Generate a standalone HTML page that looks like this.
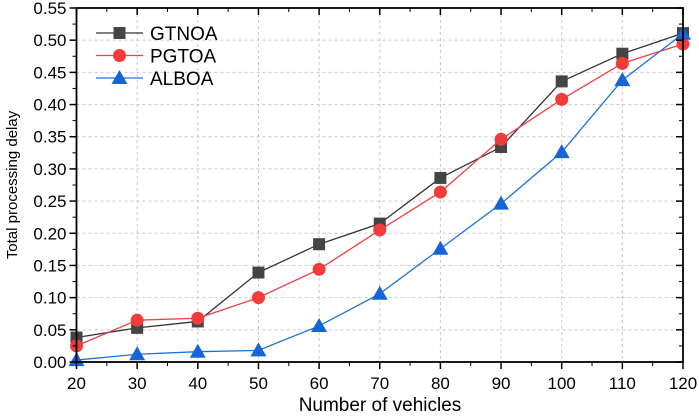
<!DOCTYPE html>
<html><head><meta charset="utf-8"><style>
body{margin:0;background:#fff}
svg{display:block;font-family:"Liberation Sans",sans-serif}
</style></head><body>
<svg id="chart" width="699" height="416" viewBox="0 0 699 416" xmlns="http://www.w3.org/2000/svg">
<g id="grid"></g>
<g id="series"></g>
<g id="axes"></g>
<text x="380" y="411" font-size="19" text-anchor="middle">Number of vehicles</text>
<text transform="translate(17,185) rotate(-90)" font-size="15" text-anchor="middle">Total processing delay</text>
<g id="legend"></g>
</svg>
<script>
const categories=[20,30,40,50,60,70,80,90,100,110,120];
const gtnoa=[0.038,0.053,0.063,0.139,0.183,0.215,0.286,0.334,0.436,0.479,0.511];
const pgtoa=[0.025,0.065,0.068,0.100,0.144,0.205,0.264,0.346,0.408,0.464,0.494];
const alboa=[0.003,0.012,0.016,0.018,0.056,0.106,0.176,0.246,0.326,0.438,0.510];
const yTicks=["0.00","0.05","0.10","0.15","0.20","0.25","0.30","0.35","0.40","0.45","0.50","0.55"];
const xTicks=["20","30","40","50","60","70","80","90","100","110","120"];
const NS="http://www.w3.org/2000/svg";
const X0=76.5,X1=683,Y0=362,Y1=8;
const xs=v=>X0+(v-20)/100*(X1-X0);
const ys=v=>Y0-v/0.55*(Y0-Y1);
function mk(t,a,p){const e=document.createElementNS(NS,t);for(const k in a)e.setAttribute(k,a[k]);p.appendChild(e);return e;}
const grid=document.getElementById('grid'),axes=document.getElementById('axes'),ser=document.getElementById('series'),leg=document.getElementById('legend');
xTicks.forEach((t,i)=>{const x=xs(+t);
 if(i>0&&i<xTicks.length-1){const l=mk('line',{x1:x,x2:x,y1:Y1,y2:Y0,stroke:'#c8c8c8','stroke-dasharray':'3,3'},grid);}
 mk('line',{x1:x,x2:x,y1:Y0,y2:Y0+7,stroke:'#000','stroke-width':1.5},axes);
 mk('line',{x1:x,x2:x,y1:Y1,y2:Y1+7,stroke:'#000','stroke-width':1.5},axes);
 if(i<xTicks.length-1){const xm=xs(+t+5);mk('line',{x1:xm,x2:xm,y1:Y0,y2:Y0+4,stroke:'#000'},axes);mk('line',{x1:xm,x2:xm,y1:Y1,y2:Y1+4,stroke:'#000'},axes);}
 const tx=mk('text',{x:x,y:Y0+27,'font-size':17,'text-anchor':'middle'},axes);tx.textContent=t;
 
});
yTicks.forEach((t,i)=>{const y=ys(+t);
 if(i>0&&i<yTicks.length-1){const l=mk('line',{x1:X0,x2:X1,y1:y,y2:y,stroke:'#c8c8c8','stroke-dasharray':'3,3'},grid);}
 mk('line',{x1:X0-7,x2:X0,y1:y,y2:y,stroke:'#000','stroke-width':1.5},axes);
 mk('line',{x1:X1-7,x2:X1,y1:y,y2:y,stroke:'#000','stroke-width':1.5},axes);
 if(i<yTicks.length-1){const ym=ys(+t+0.025);mk('line',{x1:X0-4,x2:X0,y1:ym,y2:ym,stroke:'#000'},axes);mk('line',{x1:X1-4,x2:X1,y1:ym,y2:ym,stroke:'#000'},axes);}
 const tx=mk('text',{x:X0-10,y:y+6,'font-size':17,'text-anchor':'end'},axes);tx.textContent=t;
 
});
mk('rect',{x:X0,y:Y1,width:X1-X0,height:Y0-Y1,fill:'none',stroke:'#000','stroke-width':1.8},axes);
function marker(kind,x,y,c,p){
 if(kind==='sq')return mk('rect',{x:x-6,y:y-6,width:12,height:12,fill:c},p);
 if(kind==='ci')return mk('circle',{cx:x,cy:y,r:6.5,fill:c},p);
 return mk('polygon',{points:`${x},${y-8} ${x-8},${y+6} ${x+8},${y+6}`,fill:c},p);
}
const S=[{n:'GTNOA',d:gtnoa,lc:'#333',mc:'#444',k:'sq'},{n:'PGTOA',d:pgtoa,lc:'#f04040',mc:'#f23b3b',k:'ci'},{n:'ALBOA',d:alboa,lc:'#1a73d9',mc:'#1565d8',k:'tr'}];
S.forEach((s,si)=>{
 const g=mk('g',{},ser);
 const pl=mk('polyline',{points:s.d.map((v,i)=>xs(categories[i])+','+ys(v)).join(' '),fill:'none',stroke:s.lc,'stroke-width':1.3},g);
 
 s.d.forEach((v,i)=>{const m=marker(s.k,xs(categories[i]),ys(v),s.mc,g);});
 const ly=33+si*22.5;
 const le=mk('g',{},leg);
 mk('line',{x1:96,x2:143,y1:ly,y2:ly,stroke:s.lc,'stroke-width':1.3},le);
 marker(s.k,119.5,ly,s.mc,le);
 const t=mk('text',{x:150,y:ly+7,'font-size':19},le);t.textContent=s.n;
});
</script>
</body></html>
